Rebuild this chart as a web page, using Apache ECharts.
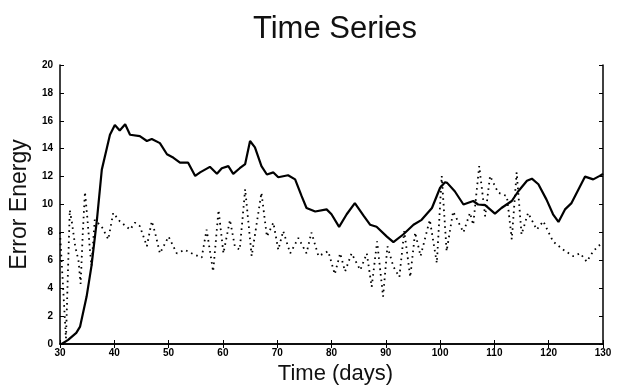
<!DOCTYPE html>
<html>
<head>
<meta charset="utf-8">
<script src="https://cdn.jsdelivr.net/npm/echarts@6/dist/echarts.min.js"></script>
<style>html,body{margin:0;padding:0;background:#fff;}#c{width:626px;height:386px;}</style>
</head>
<body>
<div id="c"></div>
<script>
const solidDays = [30.3,31.5,33,33.7,34.9,35.8,36.8,37.7,38.6,39.2,40.1,41,42,42.9,44.7,46,46.9,48.4,49.7,50.9,52.1,53.6,54.9,55.8,57.6,58.9,59.8,61,61.9,63.1,64.1,65,65.9,67.1,68.1,69.3,70.2,72,73.3,74.5,75.4,77,79.1,80,81.4,82.8,84.3,85.9,87.1,88.3,90.2,91.4,93.2,95.1,96.6,98.5,100,100.9,101.3,102.7,104.3,106.1,107,108.3,110.1,111.3,113.2,114.4,116,116.9,118.1,119.6,120.8,121.8,123,124.2,125.5,126.7,128.2,129.4,130];
const solidValues = [0,0.3,0.8,1.25,3.4,5.6,8.9,12.5,14,15,15.7,15.3,15.75,15.0,14.9,14.55,14.7,14.4,13.6,13.35,13.0,13.0,12.05,12.3,12.7,12.2,12.6,12.75,12.2,12.6,12.9,14.55,14.1,12.75,12.15,12.3,11.95,12.1,11.8,10.6,9.75,9.5,9.65,9.3,8.4,9.3,10.1,9.2,8.55,8.4,7.7,7.3,7.85,8.55,8.9,9.75,11.2,11.6,11.55,10.95,10.0,10.25,10.0,9.95,9.35,9.75,10.25,10.95,11.7,11.85,11.45,10.35,9.3,8.75,9.65,10.1,11.1,12.0,11.8,12.05,12.2];
const dottedDays = [30,31.1,31.8,32.2,32.8,33.4,33.8,34.2,34.6,35.0,35.5,35.8,36.4,37.7,38.9,39.8,41,42.9,43.8,44.7,46,46.9,47.5,48.4,50,51.5,53,54.5,56.1,57,58.2,59.2,60.1,61.3,62.2,63.1,64.1,65.3,67.1,68.1,69.3,70.2,71.1,72.4,73.9,75.4,76.3,77.6,79.4,80.6,81.6,82.5,83.7,85.3,86.5,87.4,88.4,89.5,90.3,91.4,92.5,93.4,94.5,95.4,96.4,98.1,99.4,100.3,101.2,102.4,104.3,105.5,106.1,107.2,108.3,109.2,110.7,112.3,113.2,114.1,115,116.2,117.8,119,120.8,122.7,124.5,125.8,127,128.2,129.1,130];
const dottedValues = [8.0,0.4,9.6,8.7,7.0,6.0,4.3,8.0,10.9,9.2,6.8,5.6,8.9,8.4,7.5,9.4,8.8,8.2,8.7,8.45,7.0,8.8,8.0,6.5,7.7,6.5,6.75,6.45,6.2,8.2,5.2,9.6,6.5,8.9,7.0,6.75,11.1,6.3,10.85,7.7,8.7,6.75,8.1,6.5,7.6,6.5,8.0,6.3,6.65,5.0,6.5,5.2,6.5,5.3,6.5,4.1,7.35,3.4,7.0,5.55,4.8,8.1,4.8,8.0,6.3,8.9,5.8,12.05,6.65,9.5,8.0,9.4,8.55,12.75,9.15,12.05,10.85,10.6,7.5,12.3,7.85,9.4,8.2,8.8,7.35,6.75,6.3,6.5,5.9,6.65,7.0,7.3];

const chart = echarts.init(document.getElementById('c'), null, {renderer: 'canvas'});
const lblStyle = {color: '#000', fontWeight: 'bold', fontSize: 10, fontFamily: 'Liberation Sans'};
chart.setOption({
  animation: false,
  backgroundColor: '#fff',
  title: {
    text: 'Time Series', left: 330, top: 9, textAlign: 'center',
    textStyle: {fontFamily: 'Liberation Sans', fontWeight: 'normal', fontSize: 31, color: '#111'}
  },
  grid: {left: 60, right: 23, top: 65, bottom: 42, containLabel: false, outerBoundsMode: 'none'},
  xAxis: [{
    type: 'value', min: 30, max: 130, interval: 10, position: 'bottom',
    axisLine: {lineStyle: {color: '#000', width: 1.5}},
    axisTick: {inside: true, length: 4, lineStyle: {color: '#000'}},
    axisLabel: Object.assign({margin: 4}, lblStyle),
    splitLine: {show: false},
    name: 'Time (days)', nameLocation: 'middle', nameGap: 17,
    nameTextStyle: {fontFamily: 'Liberation Sans', fontSize: 22, color: '#111', padding: [0, 0, 0, 8]}
  }, {
    type: 'value', min: 30, max: 130, interval: 10, position: 'top',
    axisLine: {lineStyle: {color: '#000', width: 1.5}},
    axisTick: {inside: true, length: 4, lineStyle: {color: '#000'}},
    axisLabel: {show: false}, splitLine: {show: false}
  }],
  yAxis: [{
    type: 'value', min: 0, max: 20, interval: 2, position: 'left',
    axisLine: {show: true, lineStyle: {color: '#000', width: 1.5}},
    axisTick: {show: true, inside: true, length: 4, lineStyle: {color: '#000'}},
    axisLabel: Object.assign({margin: 7}, lblStyle),
    splitLine: {show: false},
    name: 'Error Energy', nameLocation: 'middle', nameGap: 20,
    nameTextStyle: {fontFamily: 'Liberation Sans', fontSize: 23, color: '#111'}
  }, {
    type: 'value', min: 0, max: 20, interval: 2, position: 'right',
    axisLine: {show: true, lineStyle: {color: '#000', width: 1.5}},
    axisTick: {show: true, inside: true, length: 4, lineStyle: {color: '#000'}},
    axisLabel: {show: false}, splitLine: {show: false}
  }],
  series: [{
    type: 'line', name: 'solid', showSymbol: false, symbol: 'none',
    data: solidDays.map((d, i) => [d, solidValues[i]]),
    lineStyle: {color: '#000', width: 2.2}
  }, {
    type: 'line', name: 'dotted', showSymbol: false, symbol: 'none',
    data: dottedDays.map((d, i) => [d, dottedValues[i]]),
    lineStyle: {color: '#000', width: 1.8, type: [1.6, 4]}
  }]
});
</script>
</body>
</html>
